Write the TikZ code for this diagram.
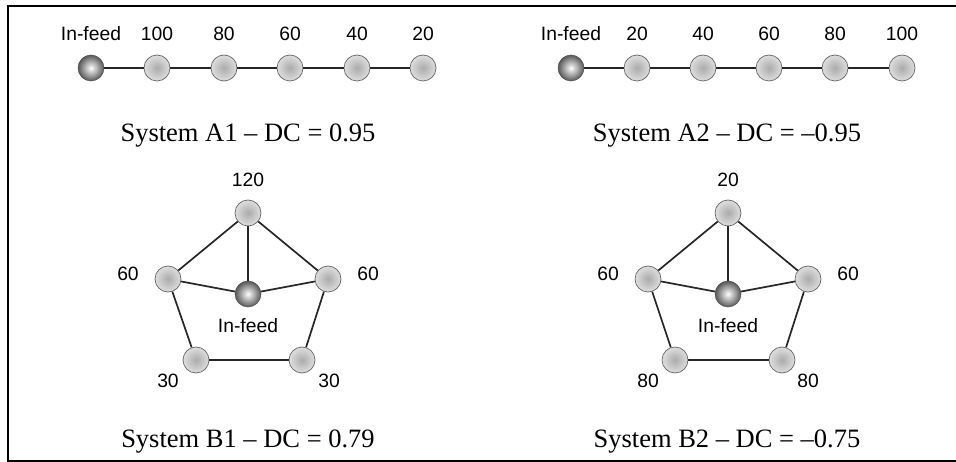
\documentclass[tikz,border=0pt]{standalone}
\usepackage{fontspec}
\setmainfont{Liberation Serif}
\newfontfamily\labelfont{Liberation Sans}
\usetikzlibrary{positioning, calc}
\tikzset{%
	site/.style={draw=black!60, line width=0.7pt, circle, minimum size=26pt, inner sep=0pt,%
		inner color=black!33, outer color=black!13},
	feed/.style={draw=black!70, line width=0.5pt, circle, minimum size=26pt, inner sep=0pt,%
		inner color=white, outer color=black!66},
	link/.style={line width=1.7pt, draw=black!85},
	num/.style={font=\labelfont\fontsize{19.3}{21}\selectfont, inner sep=0pt, anchor=base},
	sysname/.style={font=\fontsize{26.5}{30}\selectfont, inner sep=0pt, anchor=base},
	frame/.style={line width=1.5pt}
}
\begin{document}
\begin{tikzpicture}[x=1pt, y=-1pt]
	\useasboundingbox (0,0) rectangle (956,462);
	\draw[frame] (956,6) -- (8,6) -- (8,461) -- (956,461);

	% System A1
	\node[feed] (a1f) at (91,68) {};
	\node[site] (a1n1) at (157,68) {};
	\node[site] (a1n2) at (224,68) {};
	\node[site] (a1n3) at (290,68) {};
	\node[site] (a1n4) at (357,68) {};
	\node[site] (a1n5) at (423,68) {};
	\node[num] (a1lf) at (91,41) {In-feed};
	\node[num] (a1l1) at (157,41) {100};
	\node[num] (a1l2) at (224,41) {80};
	\node[num] (a1l3) at (290,41) {60};
	\node[num] (a1l4) at (357,41) {40};
	\node[num] (a1l5) at (423,41) {20};
	\draw[link] (a1f) -- (a1n1);
	\draw[link] (a1n1) -- (a1n2);
	\draw[link] (a1n2) -- (a1n3);
	\draw[link] (a1n3) -- (a1n4);
	\draw[link] (a1n4) -- (a1n5);
	\node[sysname] (a1cap) at (248,142) {System A1 -- DC = 0.95};

	% System A2
	\node[feed] (a2f) at (571,68) {};
	\node[site] (a2n1) at (637,68) {};
	\node[site] (a2n2) at (703,68) {};
	\node[site] (a2n3) at (769,68) {};
	\node[site] (a2n4) at (835,68) {};
	\node[site] (a2n5) at (902,68) {};
	\node[num] (a2lf) at (571,41) {In-feed};
	\node[num] (a2l1) at (637,41) {20};
	\node[num] (a2l2) at (703,41) {40};
	\node[num] (a2l3) at (769,41) {60};
	\node[num] (a2l4) at (835,41) {80};
	\node[num] (a2l5) at (902,41) {100};
	\draw[link] (a2f) -- (a2n1);
	\draw[link] (a2n1) -- (a2n2);
	\draw[link] (a2n2) -- (a2n3);
	\draw[link] (a2n3) -- (a2n4);
	\draw[link] (a2n4) -- (a2n5);
	\node[sysname] (a2cap) at (727,142) {System A2 -- DC = --0.95};

	% System B1
	\node[site] (b1t) at (248,213) {};
	\node[site] (b1l) at (168,279) {};
	\node[site] (b1r) at (328,279) {};
	\node[feed] (b1f) at (248,294) {};
	\node[site] (b1bl) at (196,360) {};
	\node[site] (b1br) at (302,360) {};
	\node[num] (b1lt) at (248,187) {120};
	\node[num] (b1ll) at (128,281) {60};
	\node[num] (b1lr) at (368,281) {60};
	\node[num] (b1lf) at (248,333) {In-feed};
	\node[num] (b1lbl) at (168,387) {30};
	\node[num] (b1lbr) at (329,387) {30};
	\draw[link] (b1t) -- (b1l);
	\draw[link] (b1t) -- (b1r);
	\draw[link] (b1t) -- (b1f);
	\draw[link] (b1l) -- (b1f);
	\draw[link] (b1r) -- (b1f);
	\draw[link] (b1l) -- (b1bl);
	\draw[link] (b1r) -- (b1br);
	\draw[link] (b1bl) -- (b1br);
	\node[sysname] (b1cap) at (248,447) {System B1 -- DC = 0.79};

	% System B2
	\node[site] (b2t) at (728,213) {};
	\node[site] (b2l) at (648,279) {};
	\node[site] (b2r) at (808,279) {};
	\node[feed] (b2f) at (728,294) {};
	\node[site] (b2bl) at (675,360) {};
	\node[site] (b2br) at (782,360) {};
	\node[num] (b2lt) at (728,187) {20};
	\node[num] (b2ll) at (608,281) {60};
	\node[num] (b2lr) at (848,281) {60};
	\node[num] (b2lf) at (728,333) {In-feed};
	\node[num] (b2lbl) at (648,387) {80};
	\node[num] (b2lbr) at (808,387) {80};
	\draw[link] (b2t) -- (b2l);
	\draw[link] (b2t) -- (b2r);
	\draw[link] (b2t) -- (b2f);
	\draw[link] (b2l) -- (b2f);
	\draw[link] (b2r) -- (b2f);
	\draw[link] (b2l) -- (b2bl);
	\draw[link] (b2r) -- (b2br);
	\draw[link] (b2bl) -- (b2br);
	\node[sysname] (b2cap) at (727,447) {System B2 -- DC = --0.75};
\end{tikzpicture}
\end{document}
